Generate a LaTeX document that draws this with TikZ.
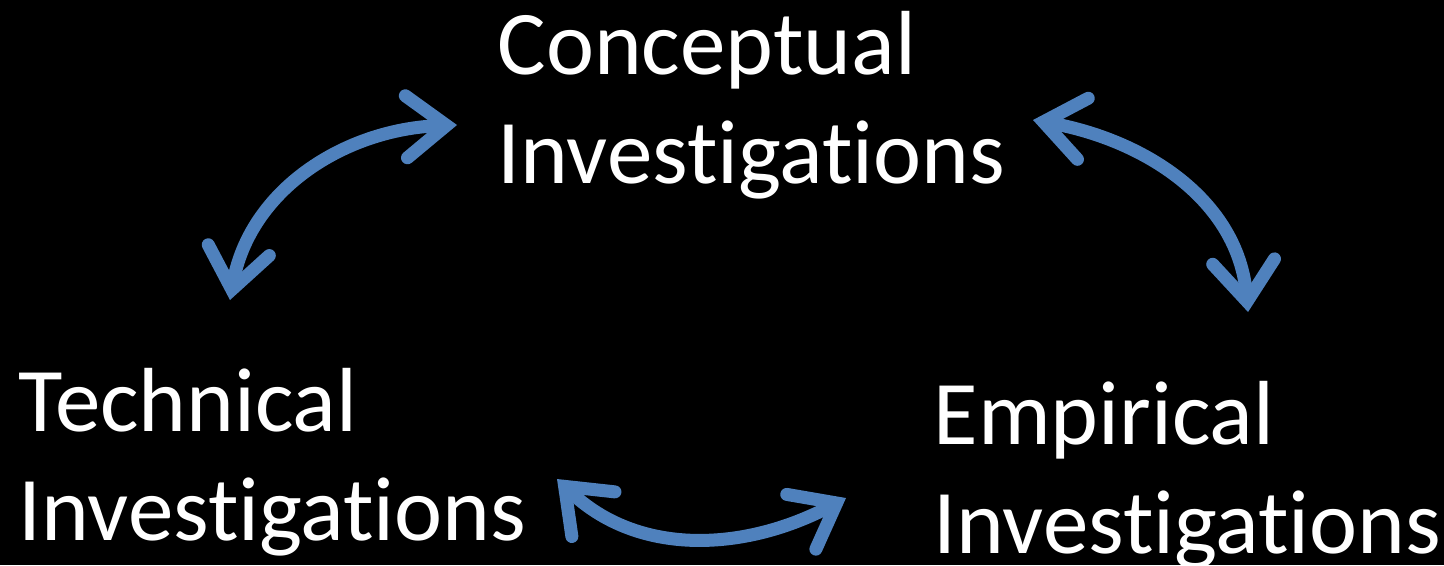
\documentclass[tikz,border=0pt]{standalone}
\usepackage{fontspec}
\setmainfont{Carlito}[Ligatures={NoCommon}]
\usetikzlibrary{arrows.meta}
\definecolor{arrowblue}{HTML}{4F81BD}
\tikzset{
  label text/.style={text=white, align=left, anchor=base west, inner sep=0pt,
    font=\fontsize{25.9}{30.9}\selectfont},
  twoway/.style={arrowblue, line width=3.7pt,
    {Straight Barb[length=0.4cm, width=0.62cm, line cap=round]}-{Straight Barb[length=0.4cm, width=0.62cm, line cap=round]}}
}
\begin{document}
\begin{tikzpicture}
  % background
  \fill[black] (0,0) rectangle (14.44,5.65);
  \useasboundingbox (0,0) rectangle (14.44,5.65);

  % --- the three kinds of investigation ---
  \node[label text] (concept) at (4.97,3.82) {Conceptual\\Investigations};
  \node[label text] (tech) at (0.18,0.25) {Technical\\Investigations};
  \node[label text] (empir) at (9.33,0.12) {Empirical\\Investigations};

  % arrow ends
  \coordinate (tech-up) at (2.30,2.65);
  \coordinate (concept-l) at (4.57,4.40);
  \coordinate (concept-r) at (10.33,4.45);
  \coordinate (empir-up) at (12.48,2.53);
  \coordinate (tech-r) at (5.57,0.86);
  \coordinate (empir-l) at (8.46,0.67);

  % --- connectors ---
  \draw[twoway] (tech-up) to[out=80, in=182] (concept-l);
  \draw[twoway] (concept-r) to[out=-10, in=95] (empir-up);
  \draw[twoway] (tech-r) to[out=-44, in=-152] (empir-l);
\end{tikzpicture}
\end{document}
